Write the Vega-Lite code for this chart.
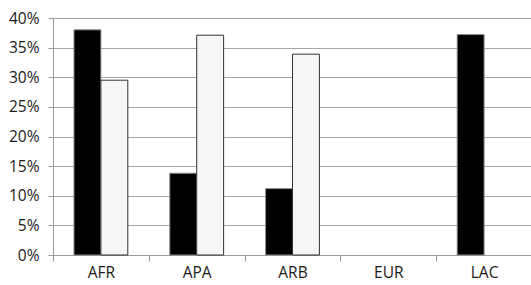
{
  "$schema": "https://vega.github.io/schema/vega-lite/v6.json",
  "autosize": "none",
  "width": 479,
  "height": 237,
  "padding": {"left": 53, "top": 18, "right": 0, "bottom": 30},
  "background": "white",
  "data": {"values": [
    {"region": "AFR", "series": "s1", "value": 0.380},
    {"region": "AFR", "series": "s2", "value": 0.295},
    {"region": "APA", "series": "s1", "value": 0.138},
    {"region": "APA", "series": "s2", "value": 0.371},
    {"region": "ARB", "series": "s1", "value": 0.112},
    {"region": "ARB", "series": "s2", "value": 0.339},
    {"region": "LAC", "series": "s1", "value": 0.372}
  ]},
  "mark": {"type": "bar", "strokeWidth": 1},
  "encoding": {
    "x": {
      "field": "region", "type": "nominal",
      "scale": {"domain": ["AFR", "APA", "ARB", "EUR", "LAC"], "paddingInner": 0, "paddingOuter": 0},
      "axis": {"title": null, "labelAngle": 0, "tickBand": "extent", "tickSize": 6, "domainColor": "#999999", "tickColor": "#999999", "labelFont": "Open Sans", "labelFontSize": 15.5, "labelColor": "#1a1a1a", "labelPadding": 4, "grid": false}
    },
    "xOffset": {
      "field": "series", "type": "nominal",
      "scale": {"domain": ["s1", "s2"], "paddingInner": 0, "paddingOuter": 0.78}
    },
    "y": {
      "field": "value", "type": "quantitative",
      "scale": {"domain": [0, 0.4], "nice": false},
      "axis": {"title": null, "format": ".0%", "values": [0, 0.05, 0.1, 0.15, 0.2, 0.25, 0.3, 0.35, 0.4], "tickSize": 5, "labelPadding": 9, "domainColor": "#999999", "tickColor": "#999999", "gridColor": "#a6a6a6", "labelFont": "Open Sans", "labelFontSize": 15.5, "labelColor": "#1a1a1a"}
    },
    "fill": {
      "field": "series", "type": "nominal",
      "scale": {"domain": ["s1", "s2"], "range": ["#000000", "#f6f6f6"]},
      "legend": null
    },
    "stroke": {
      "field": "series", "type": "nominal",
      "scale": {"domain": ["s1", "s2"], "range": ["#8a8a8a", "#333333"]},
      "legend": null
    }
  },
  "config": {"view": {"stroke": null}}
}
